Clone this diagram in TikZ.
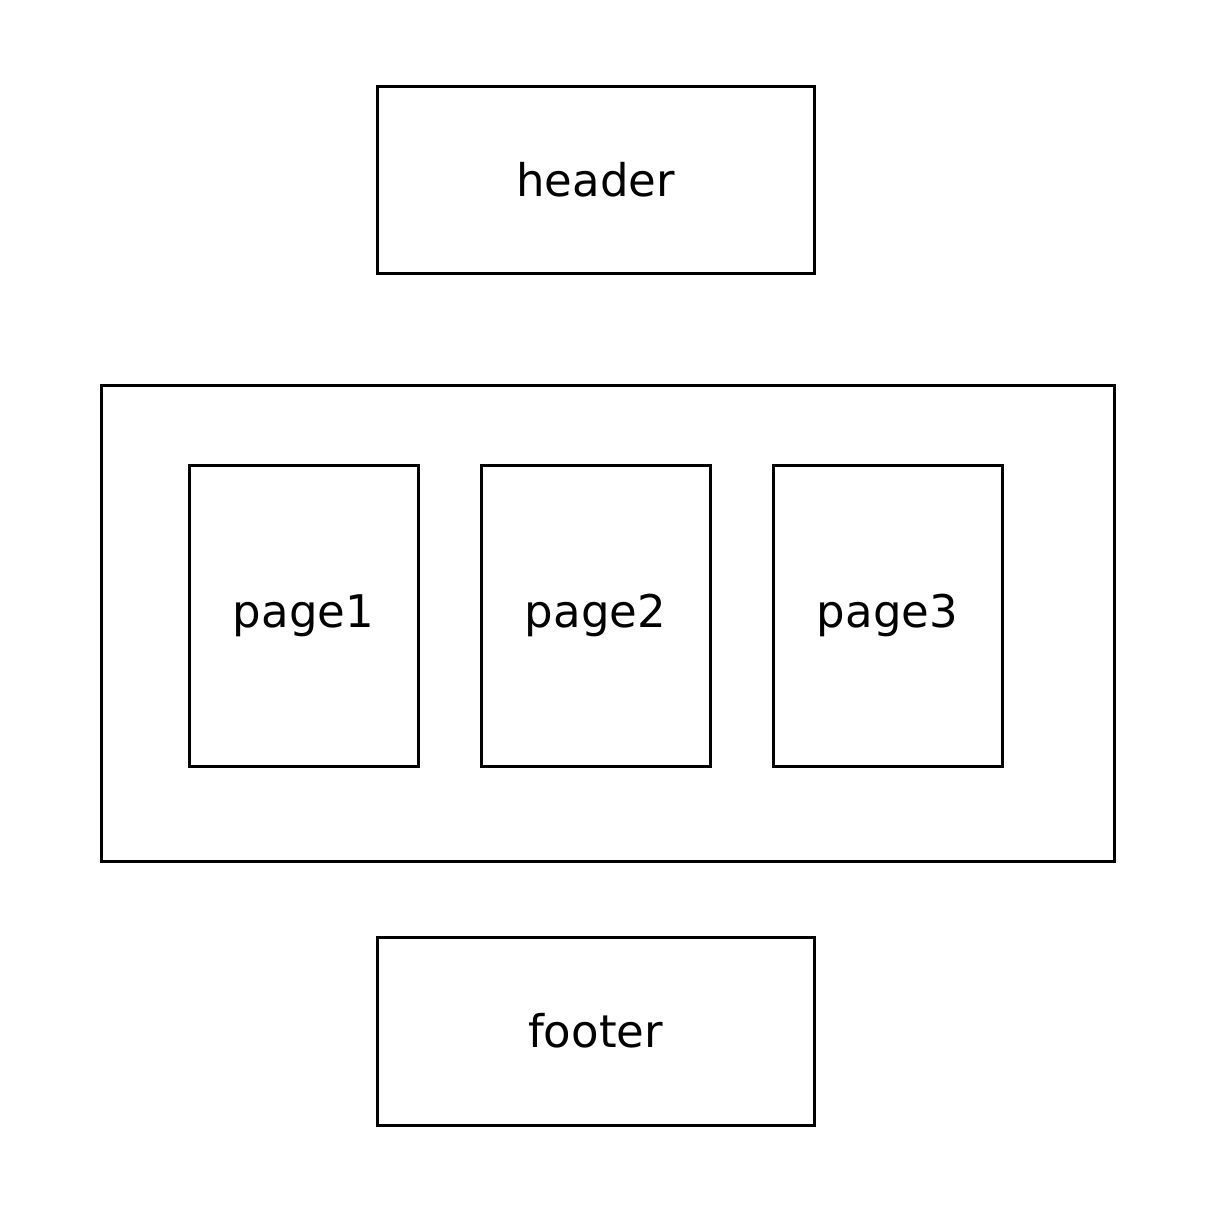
\documentclass[tikz,border=0pt]{standalone}
\usepackage{fontspec}
\setmainfont{DejaVu Sans}
\begin{document}
\begin{tikzpicture}[x=1pt,y=-1pt,
  box/.style={draw=black,line width=3pt,inner sep=0pt,font=\fontsize{45}{54}\selectfont}]
\useasboundingbox (0,0) rectangle (1218,1224);
\node[box,minimum width=437pt,minimum height=187pt] (header) at (595.5,179.5) {header};
\node[box,minimum width=1013pt,minimum height=476pt] (outer) at (607.5,623) {};
\node[box,minimum width=229pt,minimum height=301pt] (page1) at (303.5,615.5) {page1};
\node[box,minimum width=229pt,minimum height=301pt] (page2) at (595.5,615.5) {page2};
\node[box,minimum width=229pt,minimum height=301pt] (page3) at (887.5,615.5) {page3};
\node[box,minimum width=437pt,minimum height=188pt] (footer) at (595.5,1031) {footer};
\end{tikzpicture}
\end{document}
